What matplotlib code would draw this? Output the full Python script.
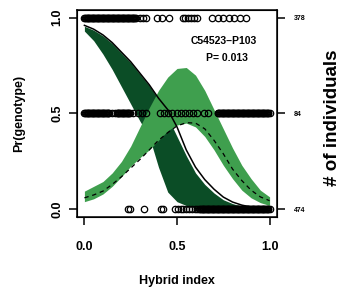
#Genotype probability along hybrid index, cline fit vs neutral expectation
import matplotlib
matplotlib.use("Agg")
import matplotlib.pyplot as plt

plt.rcParams['font.family'] = ['Liberation Sans', 'DejaVu Sans']

# hybrid index grid for the curves
hi = [0.0, 0.05, 0.1, 0.15, 0.2, 0.25, 0.3, 0.35, 0.4, 0.45, 0.5,
      0.55, 0.6, 0.65, 0.7, 0.75, 0.8, 0.85, 0.9, 0.95, 1.0]

# homozygote (dark band) and its neutral expectation (solid line)
homoUpper = [0.955, 0.935, 0.905, 0.865, 0.815, 0.765, 0.705, 0.645, 0.575, 0.48, 0.38,
             0.28, 0.19, 0.13, 0.085, 0.05, 0.03, 0.016, 0.008, 0.004, 0.002]
homoLower = [0.93, 0.88, 0.81, 0.73, 0.64, 0.55, 0.46, 0.38, 0.22, 0.09, 0.04,
             0.02, 0.01, 0.006, 0.004, 0.002, 0.001, 0.0, 0.0, 0.0, 0.0]
homoNeutral = [0.96, 0.94, 0.91, 0.87, 0.82, 0.77, 0.71, 0.65, 0.58, 0.52, 0.43,
               0.31, 0.22, 0.155, 0.105, 0.064, 0.038, 0.022, 0.012, 0.007, 0.004]

# heterozygote (light band) and its neutral expectation (dashed line)
hetUpper = [0.095, 0.12, 0.145, 0.19, 0.25, 0.33, 0.43, 0.53, 0.62, 0.69, 0.735,
            0.74, 0.70, 0.62, 0.52, 0.42, 0.32, 0.23, 0.16, 0.10, 0.065]
hetLower = [0.04, 0.055, 0.08, 0.12, 0.17, 0.225, 0.27, 0.31, 0.36, 0.41, 0.44,
            0.45, 0.43, 0.38, 0.31, 0.23, 0.16, 0.10, 0.06, 0.035, 0.02]
hetNeutral = [0.06, 0.075, 0.095, 0.13, 0.17, 0.215, 0.26, 0.31, 0.36, 0.40, 0.435,
              0.452, 0.45, 0.42, 0.36, 0.29, 0.21, 0.15, 0.10, 0.065, 0.045]

# observed individuals: hybrid index per genotype class
hom1 = [0.000, 0.004, 0.009, 0.013, 0.018, 0.022, 0.027, 0.031, 0.036, 0.040,
        0.045, 0.049, 0.054, 0.058, 0.063, 0.067, 0.072, 0.076, 0.081, 0.085,
        0.090, 0.094, 0.099, 0.103, 0.108, 0.112, 0.117, 0.121, 0.126, 0.130,
        0.135, 0.139, 0.144, 0.148, 0.153, 0.157, 0.162, 0.166, 0.171, 0.175,
        0.180, 0.184, 0.189, 0.193, 0.198, 0.202, 0.207, 0.211, 0.216, 0.220,
        0.225, 0.229, 0.234, 0.238, 0.243, 0.247, 0.252, 0.256, 0.261, 0.265,
        0.270, 0.274, 0.280, 0.300, 0.318, 0.335, 0.390, 0.420, 0.455,
        0.530, 0.545, 0.560, 0.575, 0.590, 0.610,
        0.690, 0.720, 0.750, 0.780, 0.810, 0.840, 0.870]
het = [0.000, 0.004, 0.009, 0.013, 0.018, 0.022, 0.027, 0.031, 0.036, 0.040,
       0.045, 0.049, 0.054, 0.058, 0.063, 0.067, 0.072, 0.076, 0.081, 0.085,
       0.090, 0.094, 0.099, 0.103, 0.108, 0.112, 0.117, 0.121, 0.126, 0.130,
       0.135, 0.150, 0.165, 0.175, 0.180, 0.184, 0.189, 0.193, 0.198, 0.202,
       0.207, 0.211, 0.216, 0.220, 0.225, 0.229, 0.234, 0.238, 0.243, 0.247,
       0.265, 0.290, 0.310, 0.335, 0.410, 0.430, 0.450, 0.475, 0.500, 0.520,
       0.545, 0.565, 0.585, 0.610, 0.645, 0.670,
       0.720, 0.724, 0.729, 0.733, 0.738, 0.742, 0.747, 0.751, 0.756, 0.760,
       0.765, 0.769, 0.774, 0.778, 0.783, 0.787, 0.792, 0.796, 0.801, 0.805,
       0.810, 0.814, 0.819, 0.823, 0.828, 0.832, 0.837, 0.841, 0.846, 0.850,
       0.855, 0.859, 0.864, 0.868, 0.873, 0.877, 0.882, 0.886, 0.891, 0.895,
       0.900, 0.904, 0.909, 0.913, 0.918, 0.922, 0.927, 0.931, 0.936, 0.940,
       0.945, 0.949, 0.954, 0.958, 0.963, 0.967, 0.972, 0.976, 0.981, 0.985,
       0.990, 0.994, 1.000]
hom2 = [0.235, 0.245, 0.320, 0.415, 0.425, 0.490, 0.505, 0.520, 0.535, 0.550,
        0.565, 0.580, 0.595, 0.610, 0.620, 0.624, 0.629, 0.633, 0.638, 0.642,
        0.647, 0.651, 0.656, 0.660, 0.665, 0.669, 0.674, 0.678, 0.683, 0.687,
        0.692, 0.696, 0.701, 0.705, 0.710, 0.714, 0.719, 0.723, 0.728, 0.732,
        0.737, 0.741, 0.746, 0.750, 0.755, 0.759, 0.764, 0.768, 0.773, 0.777,
        0.782, 0.786, 0.791, 0.795, 0.800, 0.804, 0.809, 0.813, 0.818, 0.822,
        0.827, 0.831, 0.836, 0.840, 0.845, 0.849, 0.854, 0.858, 0.863, 0.867,
        0.872, 0.876, 0.881, 0.885, 0.890, 0.894, 0.899, 0.903, 0.908, 0.912,
        0.917, 0.921, 0.926, 0.930, 0.935, 0.939, 0.944, 0.948, 0.953, 0.957,
        0.962, 0.966, 0.971, 0.975, 0.980, 0.984, 0.989, 0.993, 1.000]

countLabels = ["474", "84", "378"]
markerName = "C54523\u2013P103"
pValue = "P= 0.013"

darkGreen = "#0b4d26"
lightGreen = "#3f9f4e"

fig = plt.figure(figsize=(3.48, 2.91), dpi=100)
ax = fig.add_axes([77/348, 1-217/291, 200/348, 207/291])

ax.fill_between(hi, homoLower, homoUpper, color=darkGreen, lw=0)
ax.fill_between(hi, hetLower, hetUpper, color=lightGreen, lw=0)
ax.plot(hi, homoNeutral, color="black", lw=1.1)
ax.plot(hi, hetNeutral, color="black", lw=0.9, ls=(0, (3.5, 3)))

for xs, yv in [(hom1, 1.0), (het, 0.5), (hom2, 0.0)]:
    ax.plot(xs, [yv]*len(xs), "o", mfc="none", mec="black", ms=4.6, mew=0.9, ls="none")

ax.text(0.75, 0.88, markerName, ha="center", va="center", fontsize=7.5, fontweight="bold")
ax.text(0.77, 0.79, pValue, ha="center", va="center", fontsize=7.5, fontweight="bold")

ax.set_xlim(-0.04, 1.04)
ax.set_ylim(-0.04, 1.04)
ax.set_xticks([0.0, 0.5, 1.0])
ax.set_xticklabels(["0.0", "0.5", "1.0"], fontweight="bold")
ax.set_yticks([0.0, 0.5, 1.0])
ax.set_yticklabels(["0.0", "0.5", "1.0"], rotation=90, va="center", fontweight="bold")
ax.tick_params(labelsize=9, length=6, width=1.1)
ax.tick_params(axis="x", pad=11)
ax.tick_params(axis="y", pad=4)
for s in ax.spines.values():
    s.set_linewidth(1.1)
ax.set_xlabel("Hybrid index", fontsize=9, fontweight="bold")
ax.xaxis.set_label_coords(0.5, -0.28)
ax.set_ylabel("Pr(genotype)", fontsize=9, fontweight="bold")
ax.yaxis.set_label_coords(-0.26, 0.5)

ax2 = ax.twinx()
ax2.set_ylim(-0.04, 1.04)
ax2.set_yticks([0.0, 0.5, 1.0])
ax2.set_yticklabels(countLabels, fontsize=5, fontweight="bold")
ax2.tick_params(length=6, width=1.1, pad=6)
ax2.set_ylabel("# of individuals", fontsize=13.5, fontweight="bold")
ax2.yaxis.set_label_coords(1.235, 0.478)

plt.savefig("out.png", dpi=100)
